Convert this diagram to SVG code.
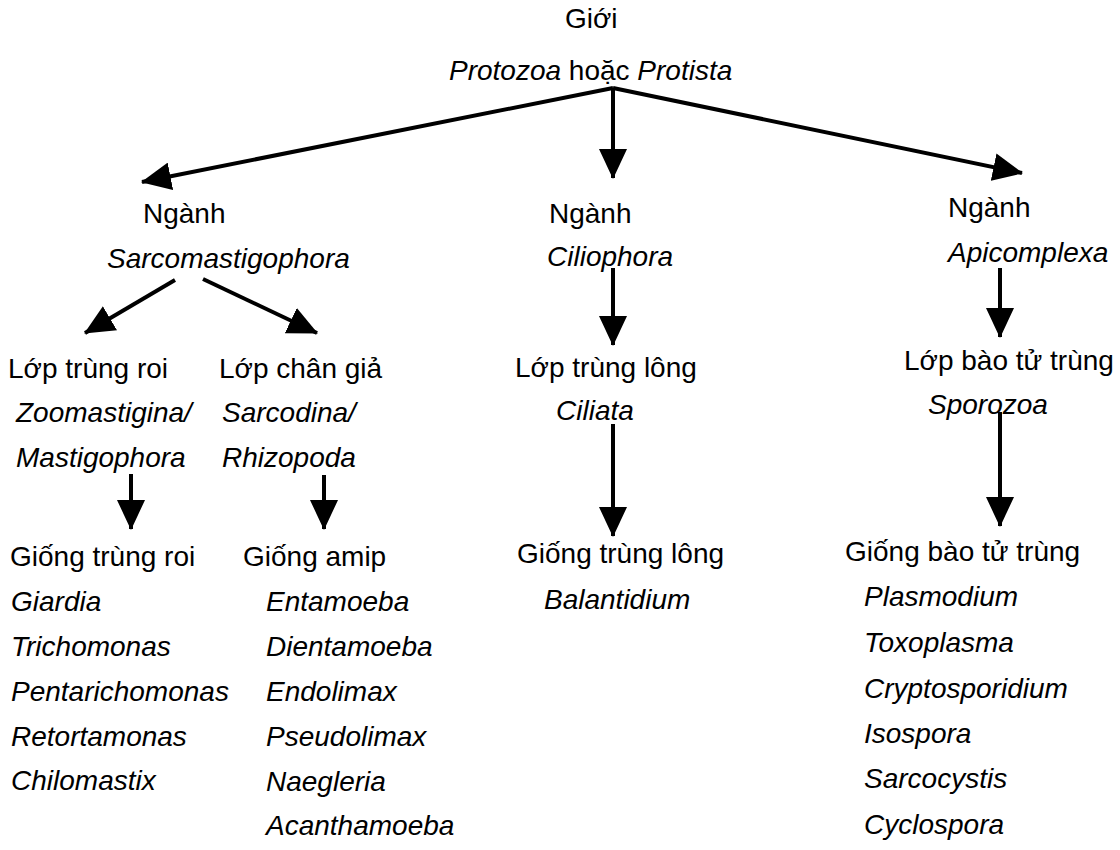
<svg xmlns="http://www.w3.org/2000/svg" width="1120" height="850" viewBox="0 0 1120 850">
<style>
text{font-family:"Liberation Sans",Arial,sans-serif;font-size:28px;fill:#000}
.i{font-style:italic}
.c{stroke:#000;stroke-width:4;fill:none}
</style>
<defs>
<marker id="ah" markerUnits="userSpaceOnUse" markerWidth="30" markerHeight="28" refX="29" refY="14" orient="auto">
<path d="M0,0 L30,14 L0,28 z" fill="#000"/>
</marker>
</defs>
<rect width="1120" height="850" fill="#fff"/>
<g id="connectors">
<line class="c" x1="613" y1="88" x2="142" y2="182" marker-end="url(#ah)"/>
<line class="c" x1="613" y1="88" x2="613" y2="178" marker-end="url(#ah)"/>
<line class="c" x1="613" y1="88" x2="1022" y2="173" marker-end="url(#ah)"/>
<line class="c" x1="175" y1="280" x2="85" y2="333" marker-end="url(#ah)"/>
<line class="c" x1="203" y1="279" x2="317" y2="333" marker-end="url(#ah)"/>
<line class="c" x1="613" y1="268" x2="613" y2="345" marker-end="url(#ah)"/>
<line class="c" x1="1000" y1="268" x2="1000" y2="337" marker-end="url(#ah)"/>
<line class="c" x1="131" y1="474" x2="131" y2="529" marker-end="url(#ah)"/>
<line class="c" x1="324" y1="475" x2="324" y2="529" marker-end="url(#ah)"/>
<line class="c" x1="613" y1="424" x2="613" y2="536" marker-end="url(#ah)"/>
<line class="c" x1="1000" y1="412" x2="1000" y2="526" marker-end="url(#ah)"/>
</g>
<g id="root">
<text x="565" y="28">Giới</text>
<text x="449" y="80"><tspan class="i">Protozoa</tspan> hoặc <tspan class="i">Protista</tspan></text>
</g>
<g id="sarcomastigophora">
<text x="143" y="223">Ngành</text>
<text x="107" y="268" class="i">Sarcomastigophora</text>
</g>
<g id="ciliophora">
<text x="549" y="223">Ngành</text>
<text x="547" y="266" class="i">Ciliophora</text>
</g>
<g id="apicomplexa">
<text x="948" y="217">Ngành</text>
<text x="948" y="262" class="i">Apicomplexa</text>
</g>
<g id="lop-trung-roi">
<text x="8" y="378">Lớp trùng roi</text>
<text x="16" y="422" class="i">Zoomastigina/</text>
<text x="16" y="467" class="i">Mastigophora</text>
</g>
<g id="lop-chan-gia">
<text x="219" y="378">Lớp chân giả</text>
<text x="222" y="422" class="i">Sarcodina/</text>
<text x="222" y="467" class="i">Rhizopoda</text>
</g>
<g id="lop-trung-long">
<text x="515" y="377">Lớp trùng lông</text>
<text x="556" y="420" class="i">Ciliata</text>
</g>
<g id="lop-bao-tu-trung">
<text x="904" y="370">Lớp bào tử trùng</text>
<text x="928" y="414" class="i">Sporozoa</text>
</g>
<g id="giong-trung-roi">
<text x="10" y="566">Giống trùng roi</text>
<text x="11" y="611" class="i">Giardia</text>
<text x="11" y="656" class="i">Trichomonas</text>
<text x="11" y="701" class="i">Pentarichomonas</text>
<text x="11" y="746" class="i">Retortamonas</text>
<text x="11" y="790" class="i">Chilomastix</text>
</g>
<g id="giong-amip">
<text x="243" y="566">Giống amip</text>
<text x="266" y="611" class="i">Entamoeba</text>
<text x="266" y="656" class="i">Dientamoeba</text>
<text x="266" y="701" class="i">Endolimax</text>
<text x="266" y="746" class="i">Pseudolimax</text>
<text x="266" y="791" class="i">Naegleria</text>
<text x="266" y="835" class="i">Acanthamoeba</text>
</g>
<g id="giong-trung-long">
<text x="517" y="563">Giống trùng lông</text>
<text x="544" y="609" class="i">Balantidium</text>
</g>
<g id="giong-bao-tu-trung">
<text x="845" y="561">Giống bào tử trùng</text>
<text x="864" y="606" class="i">Plasmodium</text>
<text x="864" y="652" class="i">Toxoplasma</text>
<text x="864" y="698" class="i">Cryptosporidium</text>
<text x="864" y="743" class="i">Isospora</text>
<text x="864" y="788" class="i">Sarcocystis</text>
<text x="864" y="834" class="i">Cyclospora</text>
</g>
</svg>
